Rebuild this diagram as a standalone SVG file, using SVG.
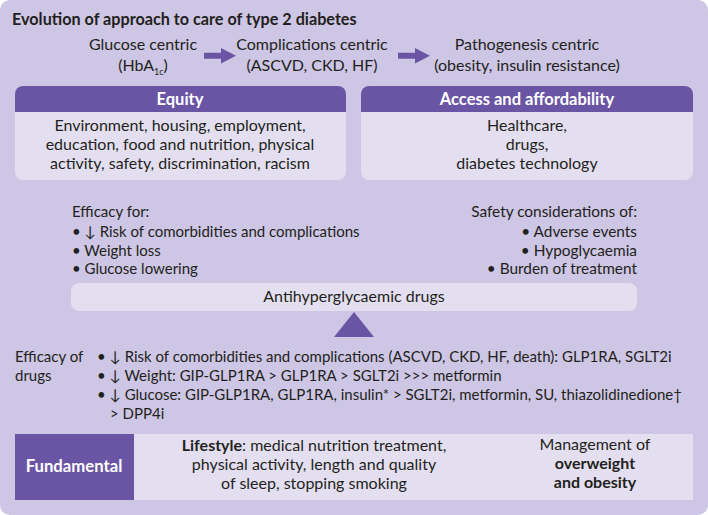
<svg xmlns="http://www.w3.org/2000/svg" width="708" height="515" viewBox="0 0 708 515">
<style>
text{font-family:Lato,"Liberation Sans",sans-serif;fill:#231f20;font-size:15px}
.c{text-anchor:middle}
.r{text-anchor:end}
.b{font-weight:bold}
.w{fill:#ffffff;font-weight:bold;font-size:16.5px}
.big{font-size:16px}
.s{font-size:15.4px}
.light{fill:#e3dff0}
.dark{fill:#6a55a5}
</style>
<rect x="0" y="0" width="708" height="515" rx="10" fill="#cdc6e4"/>
<text x="12" y="25" class="b" style="font-size:16.2px">Evolution of approach to care of type 2 diabetes</text>

<g id="glucose-centric">
<text x="143" y="50" class="c big">Glucose centric</text>
<text x="143" y="71" class="c big">(HbA<tspan style="font-size:9px" dy="4">1c</tspan><tspan dy="-4">)</tspan></text>
</g>
<g id="complications-centric">
<text x="312" y="50" class="c big">Complications centric</text>
<text x="312" y="71" class="c big">(ASCVD, CKD, HF)</text>
</g>
<g id="pathogenesis-centric">
<text x="527" y="50" class="c big">Pathogenesis centric</text>
<text x="527" y="71" class="c big">(obesity, insulin resistance)</text>
</g>

<g id="connectors" fill="#6a55a5" stroke="none">
<path d="M204,52.7 H221 V48 L236,55.7 L221,63.4 V58.7 H204 z"/>
<path d="M398,52.7 H415 V48 L430,55.7 L415,63.4 V58.7 H398 z"/>
<path d="M476,467 L491,459 V465 H505 V459 L520,467 L505,475 V469 H491 V475 z"/>
<path d="M354,312 L374,337 L334,337 z"/>
</g>

<g id="equity">
<rect x="15" y="86" width="331" height="94" rx="8" class="light"/>
<path d="M23,86 H338 A8,8 0 0 1 346,94 V112 H15 V94 A8,8 0 0 1 23,86 z" class="dark"/>
<text x="180" y="105" class="c w">Equity</text>
<text x="180" y="131" class="c big">Environment, housing, employment,</text>
<text x="180" y="150" class="c big">education, food and nutrition, physical</text>
<text x="180" y="169" class="c big">activity, safety, discrimination, racism</text>
</g>

<g id="access">
<rect x="361" y="86" width="332" height="94" rx="8" class="light"/>
<path d="M369,86 H685 A8,8 0 0 1 693,94 V112 H361 V94 A8,8 0 0 1 369,86 z" class="dark"/>
<text x="527" y="105" class="c w">Access and affordability</text>
<text x="527" y="131" class="c big">Healthcare,</text>
<text x="527" y="150" class="c big">drugs,</text>
<text x="527" y="169" class="c big">diabetes technology</text>
</g>

<g id="efficacy-for">
<text x="72" y="217">Efficacy for:</text>
<text x="72" y="237">• ↓ Risk of comorbidities and complications</text>
<text x="72" y="256">• Weight loss</text>
<text x="72" y="274">• Glucose lowering</text>
</g>

<g id="safety">
<text x="637" y="217" class="r s">Safety considerations of:</text>
<text x="637" y="237" class="r s">• Adverse events</text>
<text x="637" y="256" class="r s">• Hypoglycaemia</text>
<text x="637" y="274" class="r s">• Burden of treatment</text>
</g>

<g id="antihyperglycaemic-drugs">
<rect x="71" y="283" width="566" height="28" rx="8" class="light"/>
<text x="354" y="302" class="c big">Antihyperglycaemic drugs</text>
</g>

<g id="efficacy-of-drugs">
<text x="15" y="362">Efficacy of</text>
<text x="15" y="381">drugs</text>
<text x="97" y="362">• ↓ Risk of comorbidities and complications (ASCVD, CKD, HF, death): GLP1RA, SGLT2i</text>
<text x="97" y="381">• ↓ Weight: GIP-GLP1RA &gt; GLP1RA &gt; SGLT2i &gt;&gt;&gt; metformin</text>
<text x="97" y="400">• ↓ Glucose: GIP-GLP1RA, GLP1RA, insulin* &gt; SGLT2i, metformin, SU, thiazolidinedione†</text>
<text x="110" y="419">&gt; DPP4i</text>
</g>

<g id="fundamental">
<rect x="15" y="434" width="678" height="66" class="light"/>
<rect x="15" y="434" width="119" height="66" class="dark"/>
<text x="74" y="472" class="c w" style="font-size:16.7px">Fundamental</text>
</g>

<g id="lifestyle">
<text x="314" y="451" class="c big"><tspan class="b">Lifestyle</tspan>: medical nutrition treatment,</text>
<text x="314" y="470" class="c big">physical activity, length and quality</text>
<text x="314" y="489" class="c big">of sleep, stopping smoking</text>
</g>

<g id="management">
<text x="595" y="450" class="c big">Management of</text>
<text x="595" y="469" class="c b big">overweight</text>
<text x="595" y="488" class="c b big">and obesity</text>
</g>
</svg>
